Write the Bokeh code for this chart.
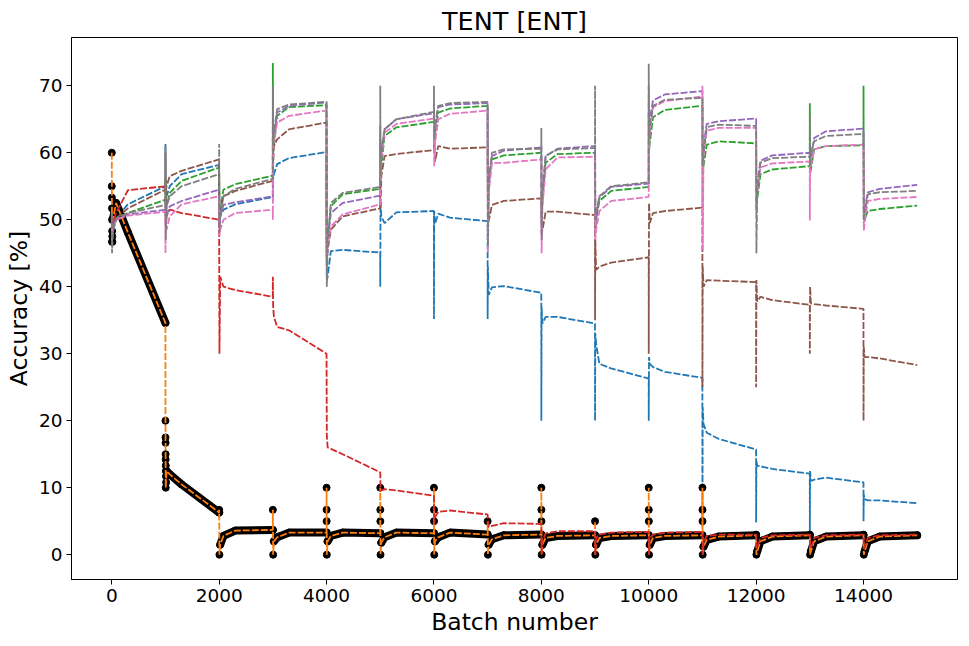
from bokeh.plotting import figure
from bokeh.models import Range1d, FixedTicker
from bokeh.embed import file_html
from bokeh.resources import INLINE

# Batch offsets inside every 1000-batch segment at which values were read
BATCH_OFFSETS = [0, 5, 20, 80, 300, 999]
SEGMENT_LEN = 1000

# Accuracy [%] per segment: [start spike, 2nd spike, dip, early, mid, end]
blue = [
    [50, 47, 49.5, 50.3, 52.3, 55.0],
    [61.3, 52, 53.5, 55.0, 56.8, 58.2],
    [56, 49, 50.5, 51.5, 52.3, 53.4],
    [59.8, 56, 56.8, 58.3, 59.2, 60.1],
    [45, 41, 41.5, 45.3, 45.5, 45.1],
    [40, 52.6, 50.5, 49.5, 51.1, 51.3],
    [35.2, 51.3, 49.4, 50.9, 50.3, 49.8],
    [35.2, 43, 38.8, 39.9, 40.1, 39.1],
    [20, 37, 34.5, 35.5, 35.5, 34.5],
    [20, 33, 31.5, 28.5, 27.8, 26.3],
    [20, 29.5, 28.5, 28.0, 27.3, 26.4],
    [4, 22, 19.5, 18.2, 17.3, 15.7],
    [4.8, 14, 13.3, 13.2, 12.8, 12.1],
    [3.1, 12.5, 11.0, 11.2, 11.5, 10.8],
    [5, 9, 8.3, 8.1, 8.1, 7.7],
]
orange = [
    [60, 46.7, 50, 52.5, 48.1, 34.6],
    [20, 10, 12.5, 12.0, 10.5, 6.3],
    [6.7, 0, 1.5, 2.8, 3.6, 3.7],
    [6.7, 0, 2.0, 2.6, 3.3, 3.3],
    [10, 0, 2.0, 2.8, 3.3, 3.2],
    [10, 0, 1.8, 2.6, 3.3, 3.2],
    [10, 0, 2.0, 2.6, 3.3, 3.0],
    [5, 0, 1.5, 2.3, 2.9, 3.0],
    [10, 0, 1.5, 2.5, 2.8, 2.9],
    [5, 0, 1.5, 2.5, 2.8, 2.9],
    [10, 0, 1.5, 2.5, 2.8, 2.9],
    [10, 0, 1.2, 2.2, 2.7, 2.9],
    [3.0, 0, 0.5, 2.0, 2.7, 2.9],
    [3.0, 0, 0.5, 2.0, 2.7, 2.9],
    [3.0, 0, 0.5, 2.0, 2.7, 2.9],
]
green = [
    [49, 48, 49.0, 50.2, 51.0, 53.0],
    [56, 50, 52, 54.0, 55.8, 57.8],
    [56, 50, 51.5, 54.5, 55.3, 56.6],
    [73.4, 62, 61.0, 65.5, 66.8, 67.1],
    [54, 45, 47, 52.0, 53.8, 54.6],
    [62, 56, 58, 62.5, 63.8, 64.6],
    [65, 60, 62.5, 66.0, 66.6, 67.0],
    [61, 50, 55, 59.0, 59.6, 60.0],
    [60, 50, 53, 58.5, 59.8, 60.0],
    [59, 48, 50, 52.8, 54.3, 54.9],
    [66, 60, 61.5, 65.3, 66.4, 67.0],
    [51.8, 57, 58, 61.2, 61.7, 61.4],
    [61.4, 52, 53, 56.8, 57.5, 58.0],
    [67.4, 57, 57.5, 60.5, 61.0, 61.1],
    [70, 50, 50, 51.3, 51.6, 52.1],
]
red = [
    [50, 48, 49.5, 51.0, 54.4, 55.0],
    [55, 49, 50.5, 51.5, 51.0, 50.0],
    [48, 30, 41.5, 40.0, 39.5, 38.5],
    [41.5, 37, 35.5, 34.0, 33.5, 30.0],
    [29.5, 17.8, 16.0, 15.8, 15.0, 12.3],
    [12.3, 10.0, 9.6, 9.8, 9.6, 8.8],
    [8.8, 4.5, 5.6, 6.4, 6.6, 6.0],
    [6.0, 5.0, 4.1, 4.3, 4.7, 4.6],
    [4.6, 0, 2.0, 3.2, 3.5, 3.5],
    [3.5, 0, 2.5, 3.0, 3.3, 3.4],
    [3.4, 0, 2.5, 3.0, 3.3, 3.4],
    [3.4, 0, 1.8, 2.8, 3.0, 3.0],
    [3.0, 1.0, 1.0, 2.5, 2.9, 3.0],
    [3.0, 1.0, 1.0, 2.5, 2.9, 3.0],
    [3.0, 1.0, 1.0, 2.5, 2.9, 3.0],
]
purple = [
    [50, 48, 49.5, 50.0, 50.8, 51.5],
    [53, 49, 50.5, 52.0, 52.8, 54.5],
    [54, 49, 50.5, 52.2, 52.6, 53.5],
    [66, 62, 62.5, 66.0, 67.0, 67.5],
    [52, 44, 46.5, 51.0, 52.5, 53.6],
    [64, 58, 60, 63.5, 65.0, 65.9],
    [66, 61, 64, 66.8, 67.2, 67.4],
    [62, 47, 55, 59.5, 60.3, 60.8],
    [61, 49, 54, 59.5, 60.6, 61.0],
    [60, 49, 50.5, 53.3, 54.9, 55.4],
    [70, 62, 65, 67.8, 68.7, 69.2],
    [69, 58, 61, 64.3, 64.7, 65.1],
    [65, 54, 55, 58.8, 59.6, 60.0],
    [60, 58, 59, 62.2, 63.2, 63.6],
    [63.6, 50, 51.5, 54.1, 54.6, 55.2],
]
brown = [
    [51, 48, 49.5, 50.2, 51.7, 54.5],
    [60, 54, 55.0, 56.5, 57.3, 59.0],
    [57, 50, 51, 53.5, 54.3, 55.8],
    [64, 58, 61.0, 62.0, 63.5, 64.5],
    [50, 44, 45.4, 48.5, 50.5, 51.7],
    [57, 52, 56.5, 59.5, 59.8, 60.4],
    [60.4, 62, 58.7, 61.0, 60.6, 60.8],
    [60.8, 53.5, 49.8, 52.2, 52.8, 53.2],
    [53.2, 48, 48.4, 51.2, 51.2, 50.7],
    [35, 47, 42.5, 43.0, 43.6, 44.4],
    [30, 52.5, 49.5, 51.0, 51.3, 51.8],
    [25, 43, 40.0, 41.0, 40.9, 40.7],
    [25, 41, 37.8, 38.5, 38.0, 37.3],
    [30, 40, 37.5, 37.4, 37.2, 36.7],
    [20, 31, 29.5, 29.5, 29.3, 28.3],
]
pink = [
    [49, 47, 48.5, 50.0, 50.6, 51.2],
    [45, 49, 48.5, 50.5, 52.3, 53.5],
    [52, 47.5, 48.5, 50.0, 51.0, 51.5],
    [50, 62, 61.5, 64.5, 65.5, 66.3],
    [49, 44, 46.0, 49.0, 50.8, 52.3],
    [62, 56, 59, 63.0, 64.3, 65.1],
    [64, 58, 61.5, 65.0, 65.8, 66.3],
    [60, 45.1, 54, 58.5, 58.5, 59.0],
    [59, 45, 52, 57.5, 59.3, 59.4],
    [58, 47, 48.5, 51.3, 52.8, 53.4],
    [68, 60, 63, 66.8, 67.7, 68.4],
    [70, 45.4, 59.5, 63.3, 63.7, 63.7],
    [63.7, 51, 54, 57.8, 58.4, 58.7],
    [49.9, 57, 58, 60.5, 61.0, 61.2],
    [61.2, 48.4, 49.5, 52.8, 53.1, 53.4],
]
gray = [
    [51, 45, 48.0, 50.2, 51.0, 52.2],
    [61, 47, 52, 53.5, 55.0, 56.8],
    [61.3, 48, 50.5, 53.5, 54.6, 56.1],
    [70, 61, 63, 66.5, 67.2, 67.6],
    [60, 40, 46.5, 52.5, 54.0, 54.9],
    [70, 57, 60, 63.5, 65.0, 66.1],
    [70, 62, 64, 67.0, 67.4, 67.6],
    [64, 46, 56, 60.0, 60.5, 60.6],
    [63.7, 47, 54, 59.5, 60.5, 60.7],
    [70, 50, 51, 53.5, 55.0, 55.6],
    [73.3, 62, 64, 67.0, 67.9, 68.2],
    [68, 58, 60, 63.8, 64.2, 64.0],
    [64, 45, 54.5, 58.5, 59.2, 59.4],
    [65.7, 58, 60, 61.7, 62.5, 62.8],
    [62.8, 50, 51, 53.8, 54.1, 54.3],
]

# Extra quantised accuracies of the first batches of the orange run (black dots)
orange_extra_x = [0, 2, 4, 6, 8, 10, 12,
                  1001, 1002, 1003, 1004, 1006, 1008, 1010, 1012,
                  4001, 4002, 5001, 5002, 6001, 6002, 8001, 8002,
                  10001, 10002, 11001, 11002]
orange_extra_y = [55, 53.3, 51.7, 50, 48.3, 47.5, 46.7,
                  17.5, 16.7, 15, 14.2, 13.3, 12.5, 11.7, 10.8,
                  6.7, 5, 6.7, 5, 6.7, 5, 6.7, 5,
                  6.7, 5, 6.7, 5]

x_ticks = [0, 2000, 4000, 6000, 8000, 10000, 12000, 14000]
y_ticks = [0, 10, 20, 30, 40, 50, 60, 70]

SERIES = [
    ("blue", blue, "#1f77b4"),
    ("orange", orange, "#ff7f0e"),
    ("green", green, "#2ca02c"),
    ("red", red, "#d62728"),
    ("purple", purple, "#9467bd"),
    ("brown", brown, "#8c564b"),
    ("pink", pink, "#e377c2"),
    ("gray", gray, "#7f7f7f"),
]

FONT = "DejaVu Sans"


def flatten(rows):
    xs, ys = [], []
    for k, row in enumerate(rows):
        for off, v in zip(BATCH_OFFSETS, row):
            xs.append(k * SEGMENT_LEN + off)
            ys.append(v)
    return xs, ys


def segment_bodies(rows, first=2):
    xs_list, ys_list = [], []
    for k, row in enumerate(rows):
        xs_list.append([k * SEGMENT_LEN + off for off in BATCH_OFFSETS[first:]])
        ys_list.append(list(row[first:]))
    return xs_list, ys_list


p = figure(width=965, height=640, output_backend="svg", toolbar_location=None,
           x_range=Range1d(-750, 15750), y_range=Range1d(-3.7, 77.2),
           min_border_left=71, min_border_right=8, min_border_top=37,
           min_border_bottom=61)

for name, rows, color in SERIES:
    xs, ys = flatten(rows)
    if name == "orange":
        bxs, bys = segment_bodies(rows)
        p.multi_line(bxs, bys, line_color="black", line_width=8,
                     line_join="round", line_cap="round")
        p.scatter(xs, ys, size=7, fill_color="black", line_color="black")
        p.scatter(orange_extra_x, orange_extra_y, size=7,
                  fill_color="black", line_color="black")
    p.line(xs, ys, line_color=color, line_width=1.8, line_dash="7 2")

p.title.text = "TENT [ENT]"
p.title.align = "center"
p.title.text_font = FONT
p.title.text_font_size = "25.5px"
p.title.text_font_style = "normal"
p.title.text_color = "black"
p.title.standoff = 3

p.xaxis.axis_label = "Batch number"
p.yaxis.axis_label = "Accuracy [%]"
for ax in (p.xaxis[0], p.yaxis[0]):
    ax.axis_label_text_font = FONT
    ax.axis_label_text_font_size = "23.5px"
    ax.axis_label_text_font_style = "normal"
    ax.axis_label_text_color = "black"
    ax.major_label_text_font = FONT
    ax.major_label_text_font_size = "18.5px"
    ax.major_label_text_color = "black"
    ax.axis_line_color = "black"
    ax.major_tick_line_color = "black"
    ax.major_tick_out = 5
    ax.major_tick_in = 0
    ax.minor_tick_line_color = None
    ax.axis_label_standoff = 3
    ax.major_label_standoff = 4
p.xaxis[0].ticker = FixedTicker(ticks=x_ticks)
p.yaxis[0].ticker = FixedTicker(ticks=y_ticks)
p.xgrid.visible = False
p.ygrid.visible = False
p.outline_line_color = "black"
p.outline_line_width = 1
p.outline_line_alpha = 1

open("out.html", "w").write(file_html(p, INLINE))
